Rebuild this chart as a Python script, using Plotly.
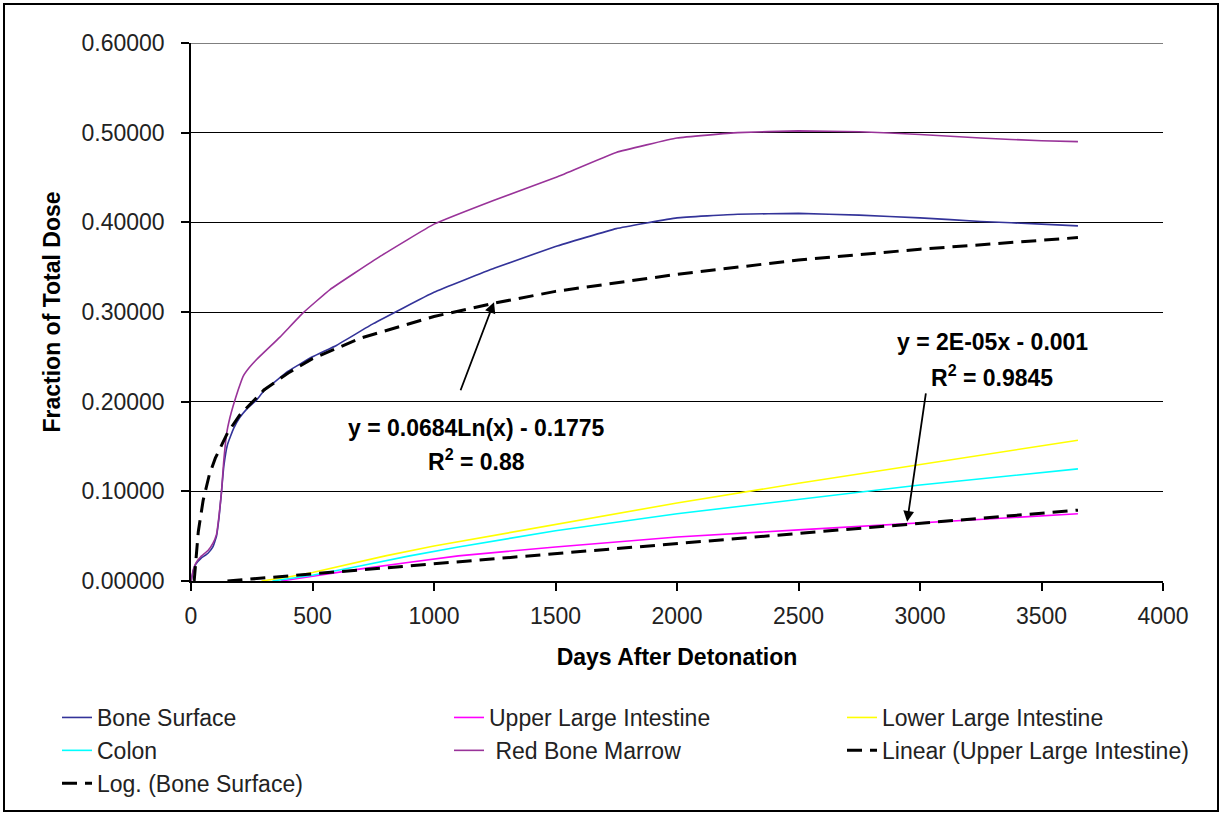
import plotly.graph_objects as go

# ---------------- data ----------------
bone_x = [0, 10, 20, 40, 70, 90, 105, 115, 125, 135, 150, 175, 200, 230, 270, 300, 400, 500,
          600, 750, 1000, 1250, 1500, 1750, 2000, 2250, 2500, 2750, 3000, 3250, 3500, 3650]
bone_y = [0.0, 0.012, 0.019, 0.025, 0.031, 0.038, 0.050, 0.070, 0.098, 0.128, 0.152, 0.170,
          0.182, 0.192, 0.202, 0.212, 0.234, 0.250, 0.263, 0.287, 0.322, 0.349, 0.373,
          0.393, 0.405, 0.409, 0.410, 0.408, 0.405, 0.401, 0.398, 0.396]

marrow_x = [0, 10, 20, 40, 70, 90, 105, 115, 125, 135, 147, 160, 173, 194, 214, 240, 270, 366,
            461, 572, 778, 1000, 1250, 1500, 1750, 2000, 2250, 2500, 2750, 3000, 3250, 3500, 3650]
marrow_y = [0.0, 0.013, 0.020, 0.027, 0.034, 0.042, 0.052, 0.072, 0.098, 0.135, 0.165, 0.182,
            0.195, 0.213, 0.228, 0.238, 0.247, 0.272, 0.299, 0.325, 0.362, 0.398, 0.425,
            0.450, 0.478, 0.494, 0.500, 0.502, 0.501, 0.498, 0.494, 0.491, 0.490]

uli_x = [370, 500, 700, 900, 1100, 1500, 2000, 2500, 3000, 3650]
uli_y = [0.0, 0.0055, 0.0135, 0.021, 0.028, 0.038, 0.049, 0.057, 0.065, 0.075]

lli_x = [290, 400, 500, 640, 800, 1000, 1250, 1500, 2000, 2500, 3000, 3650]
lli_y = [0.0, 0.0045, 0.0095, 0.018, 0.028, 0.039, 0.051, 0.063, 0.087, 0.109, 0.130, 0.157]

colon_x = [335, 500, 700, 900, 1100, 1500, 2000, 2500, 3000, 3650]
colon_y = [0.0, 0.0065, 0.017, 0.028, 0.038, 0.056, 0.075, 0.091, 0.107, 0.125]

lin_x = [150, 1000, 2000, 3000, 3650]
lin_y = [0.0, 0.0192, 0.0418, 0.0644, 0.079]

log_x = [13, 20, 30, 50, 75, 100, 150, 200, 300, 400, 500, 700, 1000, 1250, 1500, 2000, 2500, 3000, 3650]
log_y = [0.0, 0.027, 0.055, 0.090, 0.118, 0.137, 0.165, 0.185, 0.213, 0.232, 0.248, 0.271,
         0.295, 0.310, 0.323, 0.342, 0.358, 0.370, 0.383]

x_ticks = [0, 500, 1000, 1500, 2000, 2500, 3000, 3500, 4000]
y_ticks = [0.0, 0.1, 0.2, 0.3, 0.4, 0.5, 0.6]

# ---------------- figure ----------------
W, H = 1221, 814
ML, MR, MT, MB = 191, 58, 43, 233
PW, PH = W - ML - MR, H - MT - MB


def px(x):
    return (x - ML) / PW


def py(y):
    return (H - MB - y) / PH


FONT = "Arial, Liberation Sans, sans-serif"
thin = 1.6
dash = "15px,8px"

fig = go.Figure()
fig.add_trace(go.Scatter(x=bone_x, y=bone_y, mode="lines", name="Bone Surface",
                         line=dict(color="#333399", width=thin, shape="spline", smoothing=0.3),
                         legend="legend"))
fig.add_trace(go.Scatter(x=uli_x, y=uli_y, mode="lines", name="Upper Large Intestine",
                         line=dict(color="#FF00FF", width=thin), legend="legend2"))
fig.add_trace(go.Scatter(x=lli_x, y=lli_y, mode="lines", name="Lower Large Intestine",
                         line=dict(color="#FFFF00", width=thin), legend="legend3"))
fig.add_trace(go.Scatter(x=colon_x, y=colon_y, mode="lines", name="Colon",
                         line=dict(color="#00FFFF", width=thin), legend="legend"))
fig.add_trace(go.Scatter(x=marrow_x, y=marrow_y, mode="lines", name="\u00a0Red Bone Marrow",
                         line=dict(color="#993399", width=thin, shape="spline", smoothing=0.3),
                         legend="legend2"))
fig.add_trace(go.Scatter(x=lin_x, y=lin_y, mode="lines", name="Linear (Upper Large Intestine)",
                         line=dict(color="black", width=3, dash=dash), legend="legend3"))
fig.add_trace(go.Scatter(x=log_x, y=log_y, mode="lines", name="Log. (Bone Surface)",
                         line=dict(color="black", width=3, dash=dash), legend="legend"))

leg_font = dict(family=FONT, size=23, color="#222222")


def leg(xpix):
    return dict(orientation="v", x=px(xpix), y=py(696), xanchor="left", yanchor="top",
                traceorder="normal", font=leg_font, bgcolor="rgba(0,0,0,0)", borderwidth=0)


fig.update_layout(
    width=W, height=H, autosize=False,
    margin=dict(l=ML, r=MR, t=MT, b=MB, autoexpand=False),
    paper_bgcolor="white", plot_bgcolor="white",
    font=dict(family=FONT, size=23, color="#222222"),
    showlegend=True,
    legend=leg(57), legend2=leg(449), legend3=leg(842),
)

fig.update_xaxes(range=[0, 4000], tickvals=x_ticks, tickformat="d",
                 showline=True, linecolor="black", linewidth=1.5,
                 ticks="outside", ticklen=8, tickcolor="black", tickwidth=1.5,
                 showgrid=False, zeroline=False, ticklabelstandoff=6,
                 title=dict(text="<b>Days After Detonation</b>", standoff=21,
                            font=dict(family=FONT, size=23, color="black")))
fig.update_yaxes(range=[0, 0.6], tickvals=y_ticks, tickformat=".5f",
                 showline=True, linecolor="black", linewidth=1.5,
                 ticks="outside", ticklen=8, tickcolor="black", tickwidth=1.5,
                 showgrid=True, gridcolor="black", gridwidth=1.2, zeroline=False,
                 ticklabelstandoff=12,
                 title=dict(text="<b>Fraction of Total Dose</b>", standoff=14,
                            font=dict(family=FONT, size=23, color="black")))

# top gridline at 0.6
fig.add_shape(type="line", xref="paper", yref="y", x0=0, x1=1, y0=0.6, y1=0.6,
              line=dict(color="black", width=1.2))

# equation labels
ann_font = dict(family=FONT, size=23, color="black")
for text, cx, cy in [("<b>y = 0.0684Ln(x) - 0.1775</b>", 476, 428),
                     ("<b>R<sup>2</sup> = 0.88</b>", 476, 460),
                     ("<b>y = 2E-05x - 0.001</b>", 992, 342),
                     ("<b>R<sup>2</sup> = 0.9845</b>", 992, 376)]:
    fig.add_annotation(x=px(cx), y=py(cy), xref="paper", yref="paper", showarrow=False,
                       xanchor="center", yanchor="middle", text=text, font=ann_font)

# arrows (head on trend line, tail under the label)
fig.add_annotation(x=1247, y=0.311, xref="x", yref="y", ax=1107, ay=0.211, axref="x", ayref="y",
                   text="", showarrow=True, arrowhead=2, arrowsize=1.2, arrowwidth=1.8,
                   arrowcolor="black")
fig.add_annotation(x=2947, y=0.066, xref="x", yref="y", ax=3025, ay=0.211, axref="x", ayref="y",
                   text="", showarrow=True, arrowhead=2, arrowsize=1.2, arrowwidth=1.8,
                   arrowcolor="black")

# outer chart border
fig.add_shape(type="rect", xref="paper", yref="paper",
              x0=px(4), x1=px(1218), y0=py(811), y1=py(4),
              line=dict(color="black", width=2), fillcolor="rgba(0,0,0,0)", layer="below")

fig.write_html("out.html", config={"displayModeBar": False},
               post_script="document.body.style.margin='0px';")
